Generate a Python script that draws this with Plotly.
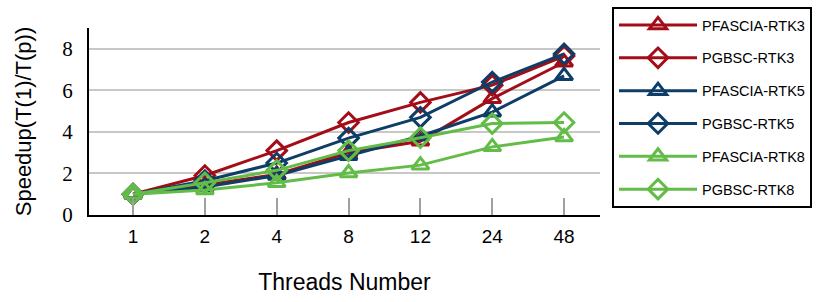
import plotly.graph_objects as go

threads = ["1", "2", "4", "8", "12", "24", "48"]
series_names = ["PFASCIA-RTK3", "PGBSC-RTK3", "PFASCIA-RTK5", "PGBSC-RTK5", "PFASCIA-RTK8", "PGBSC-RTK8"]
pfascia_rtk3 = [1.0, 1.45, 1.95, 3.0, 3.55, 5.6, 7.35]
pgbsc_rtk3 = [1.0, 1.9, 3.1, 4.45, 5.42, 6.25, 7.65]
pfascia_rtk5 = [1.0, 1.35, 1.9, 2.85, 3.8, 4.95, 6.7]
pgbsc_rtk5 = [1.0, 1.65, 2.5, 3.7, 4.7, 6.4, 7.75]
pfascia_rtk8 = [1.0, 1.2, 1.55, 2.02, 2.4, 3.28, 3.75]
pgbsc_rtk8 = [1.0, 1.55, 2.15, 3.1, 3.72, 4.4, 4.45]
y_ticks = [0, 2, 4, 6, 8]

series_values = [pfascia_rtk3, pgbsc_rtk3, pfascia_rtk5, pgbsc_rtk5, pfascia_rtk8, pgbsc_rtk8]
colors = ["#A30D17", "#0E3D68", "#63BC48"]
symbols = ["triangle-up-open", "diamond-open"]

fig = go.Figure()
for i, (name, vals) in enumerate(zip(series_names, series_values)):
    c = colors[i // 2]
    fig.add_trace(go.Scatter(
        x=threads, y=vals, name=name, mode="lines+markers",
        legendgroup=name,
        line=dict(color=c, width=3),
        marker=dict(symbol=symbols[i % 2], size=15, color=c,
                    line=dict(color=c, width=3)),
    ))

fig.update_layout(
    width=830, height=302,
    margin=dict(l=89, r=230, t=28, b=87),
    paper_bgcolor="white", plot_bgcolor="white",
    font=dict(family="Liberation Sans, Arial, sans-serif", color="black"),
    showlegend=True,
    legend=dict(
        xref="container", yref="container",
        x=612 / 830, y=1 - 7 / 302, xanchor="left", yanchor="top",
        bordercolor="black", borderwidth=2, bgcolor="white",
        font=dict(size=14.5, family="Liberation Sans, Arial, sans-serif"),
        tracegroupgap=11, itemwidth=78, maxheight=260, entrywidth=215,
    ),
    xaxis=dict(
        type="category", range=[-0.613, 6.5], automargin=False,
        showline=True, linecolor="black", linewidth=2,
        ticks="inside", ticklen=17, tickcolor="#a0a0a0", tickwidth=1.5,
        showgrid=False, zeroline=False,
        tickfont=dict(size=19, family="Liberation Sans, Arial, sans-serif"),
        ticklabelstandoff=3,
        title=dict(text="Threads Number", font=dict(size=23), standoff=28),
    ),
    yaxis=dict(
        range=[0, 9], tickvals=y_ticks, automargin=False,
        showline=True, linecolor="black", linewidth=2,
        showgrid=True, gridcolor="#c8c8c8", gridwidth=2,
        zeroline=False, ticks="",
        tickfont=dict(size=21, family="Liberation Serif, Times New Roman, serif"),
        ticklabelstandoff=10,
        title=dict(text="Speedup(T(1)/T(p))", font=dict(size=22), standoff=25),
    ),
)

fig.write_html("out.html", config={"displayModeBar": False},
               post_script="document.body.style.margin='0px';")
